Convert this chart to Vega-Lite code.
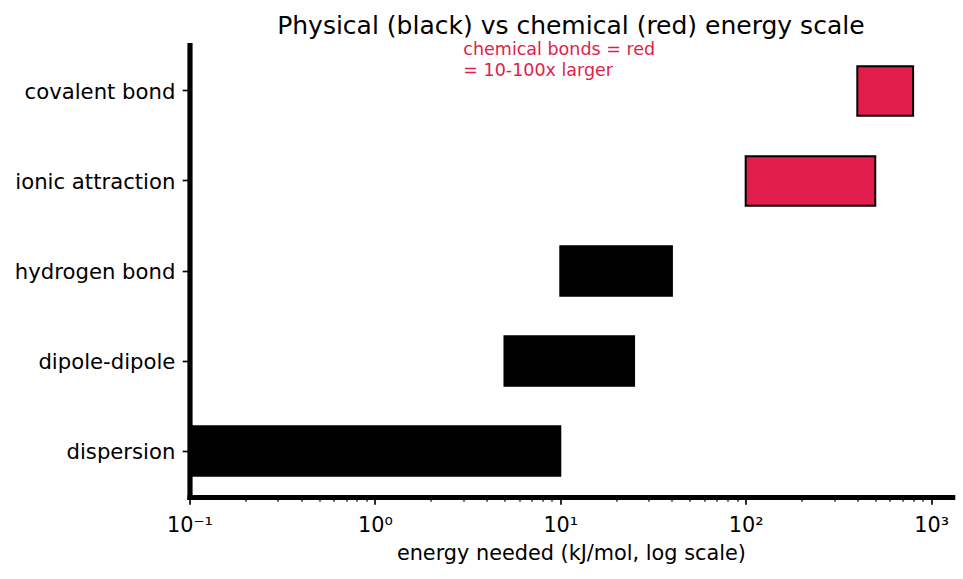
{
  "$schema": "https://vega.github.io/schema/vega-lite/v6.json",
  "width": 762.7,
  "height": 452,
  "autosize": {"type": "none"},
  "padding": {"left": 189.5, "top": 45, "right": 10.8, "bottom": 82},
  "background": "white",
  "config": {
    "view": {"stroke": null},
    "font": "DejaVu Sans",
    "axis": {"grid": false}
  },
  "title": {
    "text": "Physical (black) vs chemical (red) energy scale",
    "fontSize": 25,
    "fontWeight": "normal",
    "font": "DejaVu Sans",
    "color": "black",
    "anchor": "middle",
    "frame": "group",
    "baseline": "alphabetic",
    "offset": -18
  },
  "data": {
    "values": [
      {"interaction": "dispersion", "low": 0.1, "high": 10, "kind": "physical"},
      {"interaction": "dipole-dipole", "low": 5, "high": 25, "kind": "physical"},
      {"interaction": "hydrogen bond", "low": 10, "high": 40, "kind": "physical"},
      {"interaction": "ionic attraction", "low": 100, "high": 500, "kind": "chemical"},
      {"interaction": "covalent bond", "low": 400, "high": 800, "kind": "chemical"}
    ]
  },
  "layer": [
    {
      "mark": {"type": "bar", "stroke": "black", "strokeWidth": 2, "clip": true},
      "encoding": {
        "y": {
          "field": "interaction",
          "type": "nominal",
          "scale": {
            "domain": ["covalent bond", "ionic attraction", "hydrogen bond", "dipole-dipole", "dispersion"],
            "paddingInner": 0.45,
            "paddingOuter": 0.235
          },
          "axis": {
            "title": null,
            "labelFont": "DejaVu Sans",
            "labelFontSize": 21.2,
            "labelColor": "black",
            "labelPadding": 7.3,
            "labelOffset": 2,
            "tickSize": 7.3,
            "tickWidth": 1.67,
            "tickColor": "black",
            "domainColor": "black",
            "domainWidth": 5.2,
            "domainCap": "square"
          }
        },
        "x": {
          "field": "low",
          "type": "quantitative",
          "scale": {"type": "log", "domain": [0.1, 1300], "nice": false},
          "axis": {
            "orient": "bottom",
            "values": [0.1, 1, 10, 100, 1000],
            "labelExpr": "datum.value < 0.5 ? '10⁻¹' : datum.value < 5 ? '10⁰' : datum.value < 50 ? '10¹' : datum.value < 500 ? '10²' : '10³'",
            "labelFont": "DejaVu Sans",
            "labelFontSize": 20.8,
            "labelColor": "black",
            "labelFlush": false,
            "labelOverlap": false,
            "labelPadding": 11.6,
            "tickSize": 7.3,
            "tickWidth": 1.67,
            "tickColor": "black",
            "domainColor": "black",
            "domainWidth": 5.2,
            "domainCap": "square",
            "title": "energy needed (kJ/mol, log scale)",
            "titleFont": "DejaVu Sans",
            "titleFontSize": 20.8,
            "titleFontWeight": "normal",
            "titleColor": "black",
            "titlePadding": 8
          }
        },
        "x2": {"field": "high"},
        "color": {
          "field": "kind",
          "type": "nominal",
          "scale": {"domain": ["physical", "chemical"], "range": ["black", "#e01d4b"]},
          "legend": null
        }
      }
    },
    {
      "data": {"values": [{"note": "chemical bonds = red\n= 10-100x larger", "at": 3, "row": "covalent bond"}]},
      "mark": {
        "type": "text",
        "align": "left",
        "baseline": "alphabetic",
        "lineBreak": "\n",
        "lineHeight": 21,
        "fontSize": 17.5,
        "font": "DejaVu Sans",
        "color": "#e01d4b",
        "dy": -36
      },
      "encoding": {
        "x": {
          "field": "at",
          "type": "quantitative",
          "axis": {
            "orient": "bottom",
            "values": [0.2, 0.3, 0.4, 0.5, 0.6, 0.7, 0.8, 0.9, 2, 3, 4, 5, 6, 7, 8, 9, 20, 30, 40, 50, 60, 70, 80, 90, 200, 300, 400, 500, 600, 700, 800, 900],
            "labels": false,
            "domain": false,
            "title": null,
            "tickSize": 4.2,
            "tickWidth": 1.25,
            "tickColor": "black"
          }
        },
        "y": {"field": "row", "type": "nominal"},
        "text": {"field": "note"}
      }
    }
  ],
  "resolve": {"axis": {"x": "independent"}}
}
